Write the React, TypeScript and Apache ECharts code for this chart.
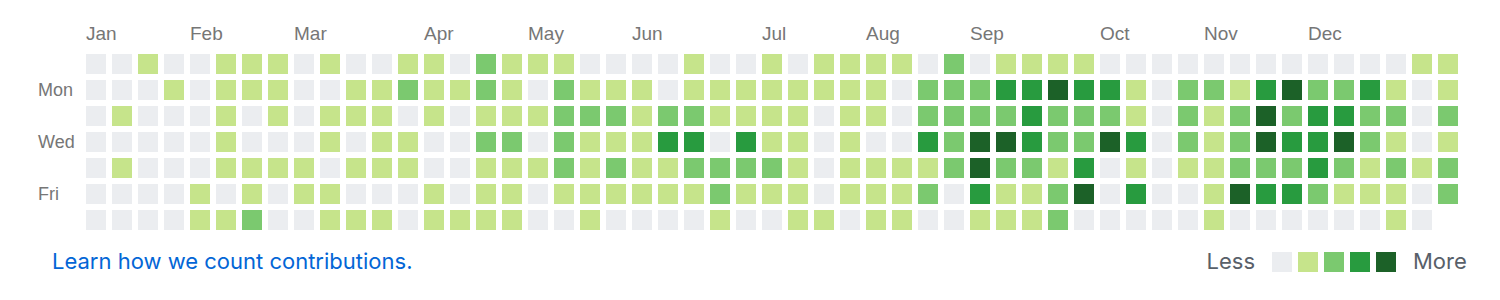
import React, { useEffect, useRef } from "react";
import * as echarts from "echarts";

// contribution levels (0-4), one array per weekday row, one value per week column
const sun = [0,0,1,0,0,1,1,1,0,1,0,0,1, 1,0,2,1,1,1,0,0,0,0,1,0,0, 1,0,1,1,1,1,0,2,0,1,1,1,1, 0,0,0,0,0,0,0,0,0,0,0,0,1,1];
const mon = [0,0,0,1,0,1,1,1,0,0,1,1,2, 1,1,2,1,0,2,1,1,1,0,1,1,1, 1,1,1,1,1,0,2,2,2,3,3,4,3, 3,1,0,2,2,1,3,4,2,2,3,1,0,1];
const tue = [0,1,0,0,0,1,0,1,0,1,1,1,0, 1,0,1,1,1,2,2,2,1,2,2,1,1, 1,1,0,1,1,0,2,2,2,2,3,2,2, 2,1,0,2,1,2,4,2,3,3,2,2,0,2];
const wed = [0,0,0,0,0,1,0,0,0,1,0,1,1, 0,0,2,2,0,2,1,1,1,3,3,0,3, 1,1,0,1,0,0,3,2,4,4,3,2,2, 4,3,0,2,1,2,4,3,3,4,2,1,0,1];
const thu = [0,1,0,0,0,1,1,1,1,0,1,1,1, 0,0,1,1,1,2,1,2,1,1,2,2,2, 2,1,0,1,1,1,1,2,4,2,2,1,3, 0,1,0,1,1,2,2,2,3,2,1,2,1,2];
const fri = [0,0,0,0,1,0,1,0,1,1,0,0,0, 1,0,1,1,0,1,1,1,1,1,1,2,1, 1,1,0,1,1,1,2,0,3,1,1,2,4, 0,3,0,0,1,4,3,3,2,1,1,1,0,2];
const sat = [0,0,0,0,1,1,2,0,0,1,1,1,0, 1,1,1,1,0,0,1,0,0,0,0,1,0, 0,1,1,0,1,1,0,0,1,1,1,2,0, 0,0,0,0,1,0,0,0,0,0,0,1,0];

const dayRows = [sun, mon, tue, wed, thu, fri, sat];
const dayLabels = ["", "Mon", "", "Wed", "", "Fri", ""];
const monthNames = ["Jan", "Feb", "Mar", "Apr", "May", "Jun", "Jul", "Aug", "Sep", "Oct", "Nov", "Dec"];
const monthStartWeek = [0, 4, 8, 13, 17, 21, 26, 30, 34, 39, 43, 47];
const levelColors = ["#ebedf0", "#c6e48b", "#7bc96f", "#289b3f", "#1c6128"];
const weekCount = 53;

const FONT = 'Helvetica, Arial, "Liberation Sans", sans-serif';
const FONT2 = 'Inter, Helvetica, Arial, sans-serif';

export default function App() {
  const ref = useRef<HTMLDivElement>(null);
  useEffect(() => {
    if (!ref.current) return;
    const chart = echarts.init(ref.current, null, { renderer: "svg" });
    const data: number[][] = [];
    dayRows.forEach((row, r) => row.forEach((lv, c) => data.push([c, r, lv])));
    const labelShift = 0.5 - 3 / 26;
    const monthVals = monthStartWeek.map((w) => w - labelShift);
    const bottomText = { fontSize: 22, fontWeight: "normal", color: "#586069", fontFamily: FONT2 };
    chart.setOption({
      animation: false,
      textStyle: { fontFamily: FONT },
      title: [
        {
          text: "Learn how we count contributions.",
          left: 52,
          top: 250,
          padding: 0,
          textStyle: { ...bottomText, color: "#0366d6" },
        },
        { text: "Less", right: 245, top: 250, padding: 0, textStyle: bottomText },
        { text: "More", left: 1413, top: 250, padding: 0, textStyle: bottomText },
      ],
      grid: { left: 83, top: 51, width: 1378, height: 182 },
      xAxis: {
        type: "value",
        position: "top",
        min: -0.5,
        max: weekCount - 0.5,
        splitLine: { show: false },
        axisLine: { show: false },
        axisTick: { show: false },
        axisLabel: {
          customValues: monthVals,
          align: "left",
          verticalAlign: "middle",
          margin: 18,
          fontSize: 19,
          color: "#767676",
          fontFamily: FONT,
          formatter: (v: number) => {
            const i = monthVals.findIndex((m) => Math.abs(m - v) < 0.01);
            return i >= 0 ? monthNames[i] : "";
          },
        },
      },
      yAxis: {
        type: "category",
        data: dayLabels,
        inverse: true,
        axisLine: { show: false },
        axisTick: { show: false },
        splitLine: { show: false },
        axisLabel: {
          interval: 0,
          align: "left",
          margin: 45,
          fontSize: 18,
          color: "#767676",
          fontFamily: FONT,
        },
      },
      visualMap: {
        type: "piecewise",
        seriesIndex: 0,
        dimension: 2,
        orient: "horizontal",
        left: 1272,
        top: 252,
        padding: 0,
        itemWidth: 20,
        itemHeight: 20,
        itemGap: 6,
        itemSymbol: "rect",
        showLabel: false,
        selectedMode: false,
        hoverLink: false,
        pieces: levelColors.map((color, i) => ({ value: i, color })),
      },
      series: [
        {
          type: "scatter",
          symbol: "rect",
          symbolSize: 20,
          silent: true,
          itemStyle: { opacity: 1 },
          emphasis: { disabled: true },
          data,
        },
      ],
    });
    return () => chart.dispose();
  }, []);
  return (
    <div
      ref={ref}
      style={{ position: "fixed", left: 0, top: 0, width: 1500, height: 300, background: "#fff" }}
    />
  );
}
